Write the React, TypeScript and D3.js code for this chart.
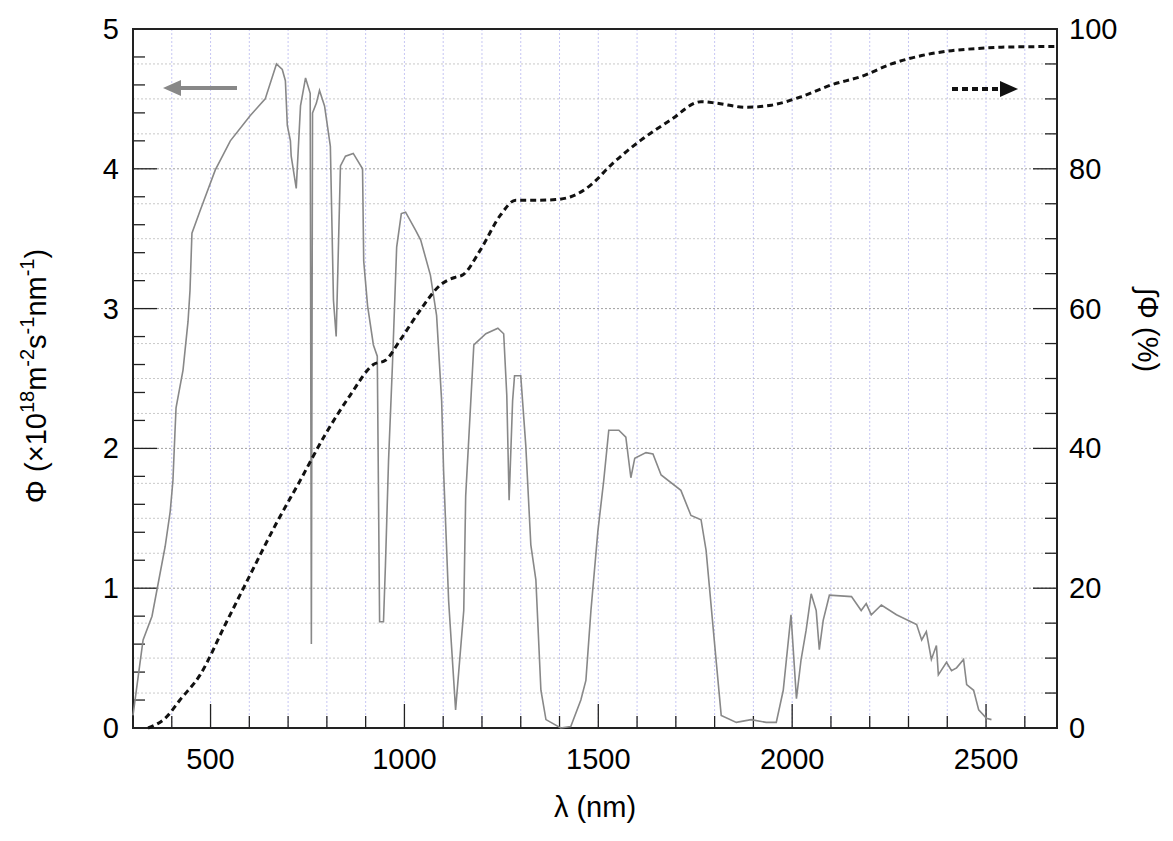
import React, { useEffect, useRef } from 'react';
import * as d3 from 'd3';

// spectral photon flux (nm, ×10^18 m^-2 s^-1 nm^-1)
const specNm = [300, 326, 349, 383, 396, 403, 408, 411, 429, 442, 447, 452, 473, 512, 551, 602, 641, 670, 685, 693, 698, 706, 708, 721, 732, 745, 757, 760, 763, 773, 781, 794, 809, 817, 824, 835, 848, 868, 892, 895, 905, 920, 930, 936, 946, 951, 959, 969, 980, 992, 1003, 1029, 1042, 1067, 1083, 1096, 1101, 1114, 1132, 1153, 1158, 1179, 1210, 1241, 1256, 1264, 1270, 1279, 1284, 1300, 1313, 1326, 1339, 1352, 1365, 1403, 1429, 1455, 1468, 1481, 1499, 1514, 1527, 1553, 1571, 1584, 1594, 1623, 1641, 1662, 1713, 1739, 1765, 1778, 1799, 1817, 1856, 1894, 1933, 1959, 1977, 1997, 2011, 2023, 2036, 2049, 2062, 2070, 2080, 2096, 2153, 2178, 2191, 2204, 2230, 2269, 2321, 2334, 2346, 2359, 2372, 2377, 2398, 2411, 2424, 2442, 2450, 2468, 2481, 2501, 2514];
const specVal = [0.09, 0.63, 0.8, 1.3, 1.55, 1.77, 2.1, 2.29, 2.56, 2.91, 3.13, 3.54, 3.7, 3.99, 4.2, 4.38, 4.5, 4.75, 4.71, 4.63, 4.31, 4.2, 4.09, 3.86, 4.45, 4.65, 4.54, 0.6, 4.4, 4.47, 4.56, 4.45, 4.16, 3.06, 2.8, 4.02, 4.09, 4.11, 4.0, 3.34, 3.02, 2.74, 2.66, 0.76, 0.76, 1.16, 1.91, 2.59, 3.44, 3.68, 3.69, 3.56, 3.49, 3.24, 2.95, 2.34, 1.84, 0.91, 0.13, 0.84, 1.66, 2.74, 2.82, 2.86, 2.82, 2.38, 1.63, 2.34, 2.52, 2.52, 2.02, 1.31, 1.06, 0.27, 0.06, 0.0, 0.01, 0.2, 0.34, 0.84, 1.41, 1.77, 2.13, 2.13, 2.08, 1.79, 1.93, 1.97, 1.96, 1.81, 1.7, 1.52, 1.49, 1.27, 0.63, 0.09, 0.04, 0.06, 0.04, 0.04, 0.27, 0.81, 0.21, 0.49, 0.7, 0.96, 0.84, 0.56, 0.77, 0.95, 0.94, 0.84, 0.89, 0.81, 0.88, 0.81, 0.74, 0.63, 0.69, 0.49, 0.59, 0.38, 0.47, 0.41, 0.43, 0.49, 0.31, 0.27, 0.13, 0.07, 0.06];

// cumulative fraction (%)
const cumNm = [339, 383, 421, 473, 537, 602, 667, 732, 796, 860, 920, 951, 989, 1041, 1093, 1132, 1150, 1196, 1248, 1287, 1339, 1390, 1429, 1481, 1532, 1610, 1687, 1765, 1804, 1881, 1946, 2023, 2101, 2178, 2256, 2334, 2411, 2475, 2540, 2680];
const cumVal = [0, 1.4, 4, 7.6, 14.7, 21.9, 29, 35.5, 42, 47.6, 52, 52.6, 55.5, 59.8, 63.4, 64.5, 64.8, 68.4, 73.4, 75.5, 75.5, 75.6, 76, 77.7, 80.5, 84.1, 87, 89.6, 89.4, 88.8, 89.1, 90.3, 92, 93.2, 95, 96.2, 96.9, 97.2, 97.4, 97.5];

const xMajor = [500, 1000, 1500, 2000, 2500];
const yLeftMajor = [0, 1, 2, 3, 4, 5];
const yRightMajor = [0, 20, 40, 60, 80, 100];

export default function App() {
  const ref = useRef<SVGSVGElement>(null);

  useEffect(() => {
    const svg = d3.select(ref.current);
    svg.selectAll('*').remove();
    const L = 133, R = 1057, T = 29, B = 728;
    const x = d3.scaleLinear().domain([300, 2683]).range([L, R]);
    const y = d3.scaleLinear().domain([0, 5]).range([B, T]);
    const y2 = d3.scaleLinear().domain([0, 100]).range([B, T]);
    const font = 'Liberation Sans, Arial, sans-serif';
    const fs = 29;

    const g = svg.append('g');
    // grid
    d3.range(300, 2700, 100).forEach((v) => {
      g.append('line').attr('x1', x(v)).attr('x2', x(v)).attr('y1', T).attr('y2', B)
        .attr('stroke', '#b8b8f0').attr('stroke-width', 0.8).attr('stroke-dasharray', '2,2');
    });
    d3.range(0.25, 5, 0.25).forEach((v) => {
      g.append('line').attr('x1', L).attr('x2', R).attr('y1', y(v)).attr('y2', y(v))
        .attr('stroke', Number.isInteger(v) ? '#888' : '#bbb').attr('stroke-width', 0.8).attr('stroke-dasharray', '2,2');
    });

    // ticks
    const tk = (x1: number, y1: number, x2: number, y2v: number) =>
      g.append('line').attr('x1', x1).attr('y1', y1).attr('x2', x2).attr('y2', y2v).attr('stroke', '#222').attr('stroke-width', 1.3);
    d3.range(400, 2700, 100).forEach((v) => {
      const len = v % 500 === 0 ? 24 : 12;
      tk(x(v), B, x(v), B - len);
    });
    d3.range(0.2, 5, 0.2).forEach((v) => {
      const major = Math.abs(v - Math.round(v)) < 1e-6;
      tk(L, y(v), L + (major ? 24 : 12), y(v));
    });
    d3.range(5, 100, 5).forEach((v) => {
      tk(R, y2(v), R - (v % 20 === 0 ? 24 : 12), y2(v));
    });

    // frame
    g.append('rect').attr('x', L).attr('y', T).attr('width', R - L).attr('height', B - T)
      .attr('fill', 'none').attr('stroke', '#222').attr('stroke-width', 2);

    // labels
    xMajor.forEach((v) => g.append('text').attr('x', x(v)).attr('y', B + 41).attr('text-anchor', 'middle')
      .attr('font-family', font).attr('font-size', fs).text(v));
    yLeftMajor.forEach((v) => g.append('text').attr('x', L - 14).attr('y', y(v) + 10).attr('text-anchor', 'end')
      .attr('font-family', font).attr('font-size', fs).text(v));
    yRightMajor.forEach((v) => g.append('text').attr('x', R + 12).attr('y', y2(v) + 10).attr('text-anchor', 'start')
      .attr('font-family', font).attr('font-size', fs).text(v));

    g.append('text').attr('x', 595).attr('y', 817).attr('text-anchor', 'middle')
      .attr('font-family', font).attr('font-size', fs).text('λ (nm)');

    const yl = g.append('text').attr('transform', 'translate(46,376) rotate(-90)').attr('text-anchor', 'middle')
      .attr('font-family', font).attr('font-size', fs);
    yl.append('tspan').text('Φ (×10');
    yl.append('tspan').attr('dy', -12).attr('font-size', 20).text('18');
    yl.append('tspan').attr('dy', 12).text('m');
    yl.append('tspan').attr('dy', -12).attr('font-size', 20).text('-2');
    yl.append('tspan').attr('dy', 12).text('s');
    yl.append('tspan').attr('dy', -12).attr('font-size', 20).text('-1');
    yl.append('tspan').attr('dy', 12).text('nm');
    yl.append('tspan').attr('dy', -12).attr('font-size', 20).text('-1');
    yl.append('tspan').attr('dy', 12).text(')');

    g.append('text').attr('transform', 'translate(1138,330) rotate(90)').attr('text-anchor', 'middle')
      .attr('font-family', font).attr('font-size', fs).text('∫Φ (%)');

    // data
    const spec = specNm.map((n, i) => [n, specVal[i]] as [number, number]);
    const cum = cumNm.map((n, i) => [n, cumVal[i]] as [number, number]);
    g.append('path').attr('d', d3.line<[number, number]>().x((d) => x(d[0])).y((d) => y(d[1]))(spec))
      .attr('fill', 'none').attr('stroke', '#888').attr('stroke-width', 1.6);
    g.append('path').attr('d', d3.line<[number, number]>().x((d) => x(d[0])).y((d) => y2(d[1])).curve(d3.curveMonotoneX)(cum))
      .attr('fill', 'none').attr('stroke', '#111').attr('stroke-width', 3).attr('stroke-dasharray', '6,4');

    // arrows
    g.append('line').attr('x1', 237).attr('x2', 176).attr('y1', 88).attr('y2', 88).attr('stroke', '#888').attr('stroke-width', 4);
    g.append('path').attr('d', 'M163,88 L181,80 L181,96 Z').attr('fill', '#888');
    g.append('line').attr('x1', 952).attr('x2', 1004).attr('y1', 89).attr('y2', 89).attr('stroke', '#111').attr('stroke-width', 4).attr('stroke-dasharray', '6,4');
    g.append('path').attr('d', 'M1018,89 L1000,81 L1000,97 Z').attr('fill', '#111');
  }, []);

  return <svg ref={ref} width={1173} height={841} style={{ display: 'block', margin: -8, background: '#fff' }} />;
}
